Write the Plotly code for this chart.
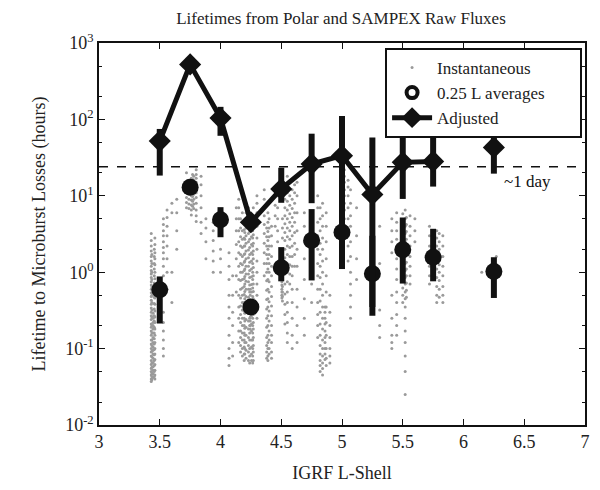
import math
import plotly.graph_objects as go

# ---------------- data ----------------
L_bins = [3.5, 3.75, 4.0, 4.25, 4.5, 4.75, 5.0, 5.25, 5.5, 5.75, 6.0, 6.25]

adj_val = [52, 525, 104, 4.5, 12.3, 26, 33.5, 10.4, 27.4, 28.2, None, 43]
adj_hi  = [75, 560, 146, 4.6, 23.3, 65, 111, 58, 71, 65, None, 65]
adj_lo  = [18.4, 490, 61, 4.4, 8.1, 8, 1.12, 0.27, 9.1, 13.2, None, 19.5]

avg_val = [0.59, 12.9, 4.85, 0.35, 1.14, 2.6, 3.34, 0.955, 1.97, 1.57, None, 1.02]
avg_hi  = [0.88, 13.2, 7.1, 0.36, 2.13, 6.7, 10, 3.0, 5.2, 3.7, None, 1.57]
avg_lo  = [0.213, 12.6, 2.87, 0.34, 0.76, 0.78, 1.1, 0.35, 0.71, 0.76, None, 0.46]

# instantaneous samples, grouped by L column
inst_cols = [3.43, 3.46, 3.53, 3.56, 3.6, 3.64, 3.72, 3.76, 3.8, 3.84, 3.88,
             3.94, 4.0, 4.07, 4.1, 4.15, 4.18, 4.21, 4.24, 4.27, 4.3,
             4.36, 4.39, 4.42, 4.47, 4.51, 4.55, 4.59, 4.63, 4.69, 4.75,
             4.8, 4.84, 4.87, 4.9, 5.02, 5.07, 5.12, 5.31, 5.41, 5.45,
             5.52, 5.56, 5.6, 5.72, 5.78, 5.83, 6.15, 6.27,
             3.445, 4.2, 4.23, 4.255, 4.4, 4.53, 4.57, 3.74, 3.78, 4.82,
             5.05, 5.5, 5.8, 4.13, 4.45, 4.61,
             3.435, 3.455, 4.165, 4.195, 4.245, 4.265, 4.38, 4.505, 5.53, 3.77, 4.86]
inst_hours = [
    [3.2, 2.6, 2.2, 1.9, 1.6, 1.4, 1.2, 1.05, 0.95, 0.85, 0.75, 0.68, 0.6, 0.54, 0.48, 0.43, 0.38, 0.34, 0.3, 0.27,
     0.24, 0.21, 0.19, 0.17, 0.15, 0.13, 0.115, 0.1, 0.09, 0.08, 0.07, 0.062, 0.055, 0.05, 0.045, 0.04, 0.037],
    [2.8, 2.3, 1.8, 1.5, 1.25, 1.0, 0.82, 0.66, 0.55, 0.46, 0.38, 0.31, 0.26, 0.22, 0.18, 0.15, 0.12, 0.1, 0.085,
     0.072, 0.062, 0.052, 0.045, 0.04],
    [5.0, 4.2, 3.5, 3.0, 2.5, 2.1, 1.8, 1.5, 1.2, 0.9, 0.7, 0.5, 0.3, 0.22, 0.17, 0.13, 0.1, 0.08],
    [6.5, 5.2, 4.0, 3.0, 2.2, 1.5, 1.0, 0.6],
    [8.0, 6.0, 1.0, 0.4],
    [9.0, 6.0, 3.5, 2.0],
    [20, 15, 13, 11, 9.5, 8.2, 7.0],
    [17, 15, 13, 11.5, 10, 8.8, 7.6, 6.5, 5.6],
    [22, 19, 17, 15, 13, 11, 9.5, 8, 6.5, 5.5, 4.6],
    [18, 14, 10, 7, 4.5, 3.2],
    [5, 3.8, 2.5, 1.5],
    [4.5, 3.5, 2.6, 1.9, 1.4, 1.0],
    [2.0, 1.5, 1.0],
    [1.8, 1.2, 0.8, 0.5, 0.35, 0.25, 0.15, 0.1, 0.075, 0.06],
    [0.9, 0.5, 0.3, 0.2, 0.12, 0.08],
    [9, 7, 5, 3.5, 2.5, 1.8, 1.2, 0.8, 0.5, 0.35, 0.25, 0.17, 0.12],
    [6, 4.5, 3.5, 2.7, 2.1, 1.6, 1.25, 1.0, 0.8, 0.62, 0.5, 0.4, 0.32, 0.25, 0.2, 0.16, 0.13, 0.1, 0.08],
    [8, 6, 4.8, 3.8, 3.0, 2.4, 1.9, 1.5, 1.2, 0.95, 0.76, 0.6, 0.48, 0.38, 0.3, 0.24, 0.19, 0.15, 0.12, 0.095, 0.075],
    [5.5, 4.3, 3.4, 2.7, 2.1, 1.7, 1.35, 1.05, 0.85, 0.68, 0.55, 0.44, 0.36, 0.3, 0.25, 0.2, 0.16, 0.13, 0.1, 0.08,
     0.065],
    [7, 5.2, 4, 3.1, 2.4, 1.9, 1.5, 1.15, 0.9, 0.7, 0.56, 0.45, 0.36, 0.28, 0.22, 0.18, 0.14, 0.11, 0.09, 0.07],
    [10, 8, 6, 4, 2.8, 2, 1.4, 1, 0.7, 0.5, 0.35, 0.25],
    [12, 9, 7, 5.5, 4.2, 3.2, 2.4, 1.8, 1.3, 0.9],
    [6, 4.5, 3.4, 2.6, 2.0, 1.5, 1.1, 0.8, 0.6, 0.45, 0.35, 0.27, 0.2, 0.15, 0.12, 0.1, 0.08, 0.07],
    [4, 3, 2.2, 1.6, 1.2, 0.9, 0.65, 0.48, 0.36, 0.27, 0.2, 0.15, 0.12, 0.09, 0.075],
    [14, 10, 7, 5, 3.5, 2.5],
    [5, 3.8, 2.8, 2.0, 1.5, 0.9, 0.65, 0.55, 0.48, 0.42],
    [18, 14, 11, 8.5, 6.5, 5, 3.8, 2.9, 2.2, 1.7, 1.3, 1, 0.75, 0.55, 0.4, 0.3, 0.22, 0.16, 0.12],
    [16, 12, 9, 6.8, 5.2, 4, 3, 2.2, 1.6, 1.2, 0.9, 0.6, 0.4, 0.25, 0.15, 0.1],
    [15, 10, 6, 3.5, 2, 1.2, 0.6, 0.35, 0.2, 0.12],
    [6, 4, 2.5, 1.5, 0.8, 0.45, 0.25, 0.15],
    [2.2, 1.2, 0.7, 0.4],
    [10, 7, 4.5, 3, 2, 1.3, 0.9, 0.6, 0.4, 0.28, 0.2, 0.14],
    [8, 5.5, 4, 2.8, 2, 1.4, 1, 0.7, 0.5, 0.35, 0.25, 0.18, 0.13, 0.1, 0.08, 0.065, 0.055, 0.045],
    [6, 4, 2.5, 1.5, 0.9, 0.55, 0.35, 0.22, 0.15, 0.1, 0.075, 0.06],
    [0.5, 0.3, 0.2, 0.14, 0.1, 0.08, 0.065],
    [22, 18, 15, 12, 10, 8, 6.5, 5],
    [12, 8, 5.5, 4, 2.5, 1.6, 1.0, 0.7, 0.5, 0.35, 0.25],
    [7, 3, 1.5, 0.8],
    [4, 1.3, 0.32, 0.2, 0.14],
    [5, 3.5, 2.5, 1.8, 0.5, 0.25, 0.15, 0.12, 0.1],
    [6, 4.5, 3.5, 2.7, 2, 1.5, 1.1, 0.8, 0.55, 0.4, 0.28, 0.2, 0.15],
    [6.5, 5, 4, 3.2, 2.5, 2, 1.6, 1.3, 1.05, 0.85, 0.7, 0.55, 0.45, 0.35, 0.25, 0.17, 0.12, 0.08, 0.05, 0.025],
    [5.5, 4, 3, 2.2, 1.6, 1.2, 0.9, 0.7],
    [5, 3.5, 2.5],
    [4, 3, 2.2, 1.6, 1.2, 0.9, 0.7],
    [3.5, 2.8, 2.2, 1.8, 1.4, 1.1, 0.85, 0.65, 0.5, 0.4],
    [3, 2.2, 1.6, 1.2, 0.9, 0.65, 0.5, 0.4],
    [1.0],
    [1.6],
    [0.29, 0.25, 0.22, 0.2, 0.18, 0.16, 0.14, 0.12, 0.105, 0.095, 0.085, 0.075, 0.066, 0.058, 0.052, 0.047, 0.042],
    [3.3, 2.7, 2.2, 1.75, 1.4, 1.1, 0.88, 0.7, 0.56, 0.45, 0.36, 0.29, 0.23, 0.185, 0.15, 0.12, 0.1, 0.085],
    [7, 5.2, 4.1, 3.2, 2.5, 1.95, 1.55, 1.2, 0.95, 0.75, 0.6, 0.47, 0.37, 0.29, 0.23, 0.18, 0.14, 0.11, 0.09, 0.07],
    [4.7, 3.7, 2.9, 2.3, 1.8, 1.4, 1.1, 0.87, 0.69, 0.55, 0.43, 0.34, 0.27, 0.21, 0.17, 0.13, 0.105, 0.085, 0.07],
    [5, 3.8, 2.9, 2.2, 1.7, 1.3, 1.0, 0.75, 0.55, 0.41, 0.31, 0.23, 0.17, 0.13, 0.1, 0.085],
    [12, 9, 7, 5.5, 4.3, 3.3, 2.6, 2, 1.55, 1.2, 0.95, 0.7, 0.52, 0.38, 0.28, 0.21],
    [10, 7.5, 5.8, 4.5, 3.5, 2.7, 2.1, 1.6, 1.25, 0.95, 0.7],
    [16, 14, 12, 10.5, 9, 7.8, 6.8],
    [18, 16, 14, 12, 10.5, 9, 7.8, 6.8],
    [7, 5, 3.5, 2.4, 1.7, 1.2, 0.85, 0.6, 0.42, 0.3, 0.21, 0.15, 0.11, 0.085, 0.07, 0.06, 0.05],
    [16, 13, 10, 7, 5, 3.5, 2.2, 1.4],
    [5.8, 4.5, 3.6, 2.8, 2.2, 1.75, 1.4, 1.15, 0.95, 0.78, 0.62, 0.5, 0.4],
    [3.2, 2.5, 2.0, 1.6, 1.25, 1.0, 0.78, 0.6, 0.47],
    [7, 5, 3.5, 2.3, 1.5, 0.9, 0.55],
    [13, 10, 7.5, 5.5, 4],
    [14, 11, 8, 6, 4.5, 3.3, 2.4, 1.7, 1.2],
    [1.7, 1.3, 1.0, 0.8, 0.64, 0.5, 0.4, 0.32, 0.26, 0.2, 0.16, 0.13, 0.11, 0.092, 0.078, 0.065, 0.057, 0.048, 0.043,
     0.039],
    [2.0, 1.6, 1.3, 1.1, 0.9, 0.72, 0.58, 0.47, 0.39, 0.33, 0.27, 0.23, 0.19, 0.16, 0.135, 0.115, 0.097, 0.083, 0.07,
     0.06, 0.05, 0.043],
    [5, 3.8, 2.9, 2.2, 1.7, 1.3, 1.0, 0.78, 0.6, 0.46, 0.36, 0.28, 0.22, 0.17, 0.14, 0.11, 0.09],
    [4.5, 3.6, 2.8, 2.2, 1.7, 1.35, 1.05, 0.82, 0.65, 0.51, 0.4, 0.31, 0.25, 0.2, 0.16, 0.13, 0.105, 0.085, 0.07],
    [0.6, 0.5, 0.42, 0.38, 0.33, 0.29, 0.26, 0.23, 0.2, 0.18],
    [3.5, 2.8, 2.2, 1.7, 1.3, 1.0, 0.8, 0.62, 0.48, 0.38, 0.31, 0.25, 0.2, 0.16, 0.13, 0.1, 0.08, 0.065],
    [3.8, 2.9, 2.2, 1.7, 1.3, 1.0, 0.77, 0.58, 0.44, 0.33, 0.25, 0.19, 0.14, 0.11, 0.09, 0.075],
    [1.0, 0.85, 0.75, 0.68, 0.6, 0.55, 0.5, 0.46],
    [5.2, 4.2, 3.4, 2.7, 2.1, 1.7, 1.35, 1.1, 0.9, 0.72, 0.58, 0.47],
    [19, 16.5, 14.5, 12.5, 11, 9.8, 8.5, 7.3],
    [0.35, 0.3, 0.25, 0.21, 0.17, 0.14, 0.12, 0.1, 0.085, 0.072],
]

one_day = 24
label_L, label_hours = 6.53, 15.5
y_tick_vals = [0.01, 0.1, 1, 10, 100, 1000]
y_tick_text = ["10<sup>-2</sup>", "10<sup>-1</sup>", "10<sup>0</sup>",
               "10<sup>1</sup>", "10<sup>2</sup>", "10<sup>3</sup>"]
x_tick_vals = [3, 3.5, 4, 4.5, 5, 5.5, 6, 6.5, 7]
x_tick_text = ["3", "3.5", "4", "4.5", "5", "5.5", "6", "6.5", "7"]

# ---------------- figure ----------------
FONT = "Liberation Serif, 'Times New Roman', 'DejaVu Serif', serif"
PAD = "\u00a0" * 7
inst_x, inst_y = [], []
for L, hs in zip(inst_cols, inst_hours):
    for h in hs:
        inst_x.append(L)
        inst_y.append(h)


def err(val, hi, lo):
    up = [None if v is None else h - v for v, h in zip(val, hi)]
    dn = [None if v is None else v - l for v, l in zip(val, lo)]
    return up, dn


fig = go.Figure()

fig.add_trace(go.Scatter(
    x=inst_x, y=inst_y, mode="markers", name="Instantaneous",
    marker=dict(color="#9a9a9a", size=3, line=dict(width=0)),
))

au, ad = err(avg_val, avg_hi, avg_lo)
fig.add_trace(go.Scatter(
    x=L_bins, y=avg_val, mode="markers", showlegend=False,
    marker=dict(color="#111111", size=17, symbol="circle"),
    error_y=dict(type="data", symmetric=False, array=au, arrayminus=ad,
                 color="#111111", thickness=6, width=0),
))
fig.add_trace(go.Scatter(
    x=[None], y=[None], mode="markers", name="0.25 L averages" + PAD,
    marker=dict(color="white", size=11, symbol="circle",
                line=dict(color="#111111", width=4)),
))

du, dd = err(adj_val, adj_hi, adj_lo)
fig.add_trace(go.Scatter(
    x=L_bins, y=adj_val, mode="lines+markers", name="Adjusted",
    line=dict(color="#111111", width=5),
    marker=dict(color="#111111", size=17, symbol="diamond"),
    error_y=dict(type="data", symmetric=False, array=du, arrayminus=dd,
                 color="#111111", thickness=6, width=0),
))

fig.add_shape(type="line", xref="x", yref="y", x0=3, x1=7, y0=one_day, y1=one_day,
              line=dict(color="#111111", width=1.3, dash="dash"))
# annotations on a log axis take log10 positions
fig.add_annotation(x=label_L, y=math.log10(label_hours), xref="x", yref="y", text="~1 day",
                   showarrow=False, font=dict(family=FONT, size=17, color="#111111"))

axis_common = dict(showline=True, linecolor="#111111", linewidth=1.5, mirror="ticks",
                   ticks="inside", tickcolor="#111111", ticklen=6, showgrid=False,
                   zeroline=False, automargin=False,
                   tickfont=dict(family=FONT, size=18, color="#222222"))

fig.update_xaxes(range=[3, 7], tickvals=x_tick_vals, ticktext=x_tick_text,
                 title=dict(text="IGRF L-Shell", font=dict(family=FONT, size=18, color="#222222")),
                 **axis_common)
fig.update_yaxes(type="log", range=[-2, 3], tickvals=y_tick_vals, ticktext=y_tick_text,
                 title=dict(text="Lifetime to Microburst Losses (hours)",
                            font=dict(family=FONT, size=18, color="#222222")),
                 minor=dict(ticks="inside", ticklen=3, tickcolor="#111111", showgrid=False),
                 **axis_common)

# the page body adds an 8 px offset, margins compensate for it
fig.update_layout(
    width=600, height=490,
    margin=dict(l=91, r=23, t=35, b=73),
    paper_bgcolor="white", plot_bgcolor="white",
    font=dict(family=FONT),
    title=dict(text="Lifetimes from Polar and SAMPEX Raw Fluxes", x=0.555, xanchor="center",
               y=0.98, yanchor="middle", font=dict(family=FONT, size=17, color="#222222")),
    legend=dict(x=0.994, xanchor="right", y=0.987, yanchor="top",
                bgcolor="white", bordercolor="#111111", borderwidth=2,
                font=dict(family=FONT, size=17, color="#222222"), tracegroupgap=0,
                itemsizing="trace", itemwidth=40),
    showlegend=True,
)

fig.write_html("out.html")
